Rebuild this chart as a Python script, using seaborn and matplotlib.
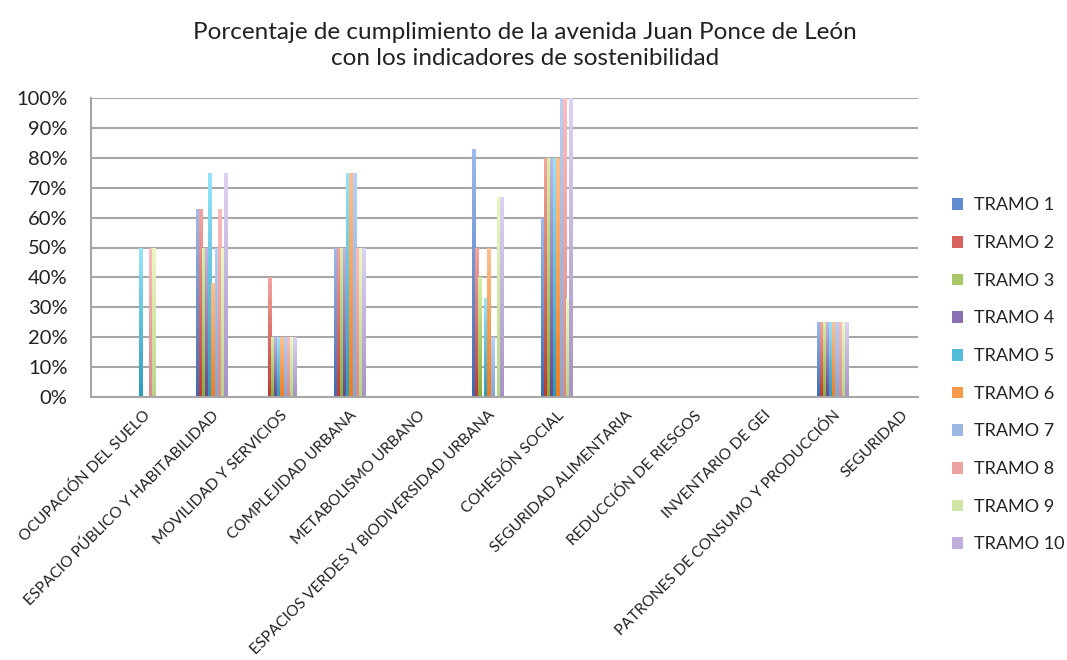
import numpy as np
import pandas as pd
import matplotlib
matplotlib.use("Agg")
import matplotlib.pyplot as plt
from matplotlib.colors import LinearSegmentedColormap
from matplotlib.patches import Patch
import seaborn as sns

# ── Data ──────────────────────────────────────────────────────
categorias = [
    "OCUPACIÓN DEL SUELO", "ESPACIO PÚBLICO Y HABITABILIDAD",
    "MOVILIDAD Y SERVICIOS", "COMPLEJIDAD URBANA", "METABOLISMO URBANO",
    "ESPACIOS VERDES Y BIODIVERSIDAD URBANA", "COHESIÓN SOCIAL",
    "SEGURIDAD ALIMENTARIA", "REDUCCIÓN DE RIESGOS", "INVENTARIO DE GEI",
    "PATRONES DE CONSUMO Y PRODUCCIÓN", "SEGURIDAD",
]
tramos = [f"TRAMO {i}" for i in range(1, 11)]

# one list per tramo, values in % per category
tramo_1  = [0, 63, 0,  50, 0, 83, 60,  0, 0, 0, 25, 0]
tramo_2  = [0, 63, 40, 50, 0, 50, 80,  0, 0, 0, 25, 0]
tramo_3  = [0, 50, 20, 50, 0, 40, 80,  0, 0, 0, 25, 0]
tramo_4  = [0, 50, 20, 50, 0, 0,  80,  0, 0, 0, 25, 0]
tramo_5  = [50, 75, 20, 75, 0, 33, 80, 0, 0, 0, 25, 0]
tramo_6  = [0, 38, 20, 75, 0, 50, 80,  0, 0, 0, 25, 0]
tramo_7  = [0, 50, 20, 75, 0, 20, 100, 0, 0, 0, 25, 0]
tramo_8  = [50, 63, 20, 50, 0, 0, 100, 0, 0, 0, 25, 0]
tramo_9  = [50, 50, 20, 50, 0, 67, 33, 0, 0, 0, 25, 0]
tramo_10 = [0, 75, 20, 50, 0, 67, 100,  0, 0, 0, 25, 0]
series = [tramo_1, tramo_2, tramo_3, tramo_4, tramo_5,
          tramo_6, tramo_7, tramo_8, tramo_9, tramo_10]

df = pd.DataFrame(
    [(c, t, v / 100) for t, vals in zip(tramos, series) for c, v in zip(categorias, vals)],
    columns=["Categoria", "Tramo", "Valor"],
)

# ── Style ─────────────────────────────────────────────────────
# (top, bottom) gradient colours, Excel-2007 look
GRAD = [
    ("#9dbbec", "#3b6cb3"), ("#f5a3a0", "#bf3a35"), ("#d8f0a6", "#8aad3f"),
    ("#c5b3e2", "#67498f"), ("#95e6fa", "#2c9cbb"), ("#ffc08e", "#f07d1e"),
    ("#b9d0f4", "#86a5d6"), ("#fbbcbb", "#d98a88"), ("#eaf9c4", "#b8d58a"),
    ("#ddd2f3", "#a793c4"),
]
MID = ["#5f8bd0", "#d9625e", "#a9c866", "#8a6fb3", "#52bcd9",
       "#f7984a", "#9db7e3", "#eba3a1", "#cfe6a6", "#bfaedb"]

sns.set_style("white")
plt.rcParams["font.family"] = ["Lato", "DejaVu Sans"]

fig = plt.figure(figsize=(10.67, 6.6), dpi=100)
ax = fig.add_axes([0.0853, 0.3985, 0.775, 0.453])

sns.barplot(data=df, x="Categoria", y="Valor", hue="Tramo", order=categorias,
            hue_order=tramos, palette=MID, width=0.45, saturation=1,
            legend=False, ax=ax, linewidth=0)

# gradient fill on each bar
grad_img = np.linspace(1, 0, 64).reshape(-1, 1)
for container, (top, bot) in zip(ax.containers, GRAD):
    cmap = LinearSegmentedColormap.from_list("g", [bot, top])
    for bar in container:
        h = bar.get_height()
        if h <= 0:
            continue
        x0 = bar.get_x()
        w = bar.get_width()
        im = ax.imshow(grad_img, cmap=cmap, aspect="auto", vmin=0, vmax=1,
                       extent=(x0, x0 + w, 0, h), zorder=bar.get_zorder() + 0.1,
                       origin="upper")
        im.set_clip_path(bar)

ax.set_xlim(-0.746, 11.24)
ax.set_ylim(0, 1)
ax.set_yticks(np.arange(0, 1.01, 0.1))
ax.set_yticklabels([f"{int(round(v * 100))}%" for v in np.arange(0, 1.01, 0.1)],
                   fontsize=14.5, color="#222222")
ax.set_xticks(range(len(categorias)))
ax.set_xticklabels(categorias, rotation=45, ha="right", rotation_mode="anchor",
                   fontsize=11.2, color="#222222")
ax.tick_params(axis="y", length=0, pad=17)
ax.tick_params(axis="x", length=0, pad=8)
ax.set_xlabel("")
ax.set_ylabel("")
ax.yaxis.grid(True, color="#a6a6a6", linewidth=1.5)
ax.set_axisbelow(True)
for side in ["top", "right"]:
    ax.spines[side].set_visible(False)
for side in ["left", "bottom"]:
    ax.spines[side].set_color("#a6a6a6")
    ax.spines[side].set_linewidth(1.5)

fig.suptitle("Porcentaje de cumplimiento de la avenida Juan Ponce de León\n"
             "con los indicadores de sostenibilidad",
             fontsize=17.5, x=0.492, y=0.967, color="#222222", linespacing=1.3)

handles = [Patch(facecolor=c, edgecolor="none") for c in MID]
fig.legend(handles, tramos, loc="center left", bbox_to_anchor=(0.877, 0.432),
           frameon=False, fontsize=13, handlelength=0.62, handleheight=0.62,
           handletextpad=0.6, labelspacing=1.2, labelcolor="#222222")

fig.savefig("out.png", dpi=100)
